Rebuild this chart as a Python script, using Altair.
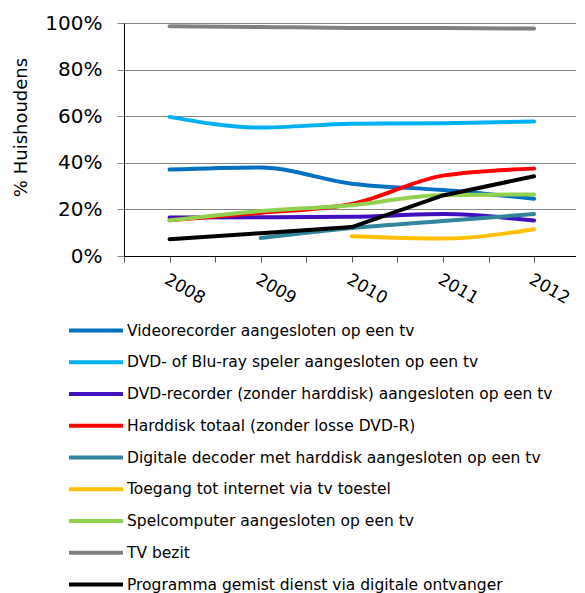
import altair as alt
import pandas as pd

years = [2008, 2009, 2010, 2011, 2012]

series_names = [
    "Videorecorder aangesloten op een tv",
    "DVD- of Blu-ray speler aangesloten op een tv",
    "DVD-recorder (zonder harddisk) aangesloten op een tv",
    "Harddisk totaal (zonder losse DVD-R)",
    "Digitale decoder met harddisk aangesloten op een tv",
    "Toegang tot internet via tv toestel",
    "Spelcomputer aangesloten op een tv",
    "TV bezit",
    "Programma gemist dienst via digitale ontvanger",
]
series_colors = [
    "#0070C0", "#00B0F0", "#4010C0", "#FF0000", "#31859C",
    "#FFC000", "#92D050", "#808080", "#000000",
]

videorecorder = [37.1, 38.0, 31.0, 28.3, 24.6]
dvd_bluray = [59.7, 55.1, 56.8, 57.0, 57.7]
dvd_recorder = [16.5, 16.6, 16.8, 18.0, 15.2]
harddisk = [15.3, 18.5, 22.3, 34.5, 37.5]
decoder = [None, 7.7, 12.0, 15.0, 18.0]
internet_tv = [None, None, 8.5, 7.5, 11.5]
spelcomputer = [15.3, 19.3, 21.8, 26.2, 26.4]
tv_bezit = [98.6, 98.3, 97.9, 97.9, 97.6]
programma_gemist = [7.2, 9.8, 12.4, 26.0, 34.2]

all_values = [videorecorder, dvd_bluray, dvd_recorder, harddisk, decoder,
              internet_tv, spelcomputer, tv_bezit, programma_gemist]

y_ticks = [0, 20, 40, 60, 80, 100]
x_ticks = [2007.5, 2008, 2008.5, 2009, 2009.5, 2010, 2010.5, 2011, 2011.5, 2012]

rows = []
for name, vals in zip(series_names, all_values):
    for yr, v in zip(years, vals):
        if v is not None:
            rows.append({"serie": name, "jaar": yr, "pct": v})
df = pd.DataFrame(rows)

FONT = "DejaVu Sans"

x_enc = alt.X(
    "jaar:Q",
    scale=alt.Scale(domain=[2007.5, 2012.46], nice=False, zero=False),
    axis=alt.Axis(
        values=x_ticks,
        labelExpr="datum.value % 1 === 0 ? toString(datum.value) : ''",
        labelAngle=30, labelAlign="left", labelBaseline="top",
        labelPadding=9, labelFontSize=17, labelFont=FONT, labelColor="#000000",
        labelOverlap=False, labelBound=False, labelFlush=False,
        tickSize=6, tickColor="#555555", domainColor="#000000",
        grid=False, title=None,
    ),
)
y_enc = alt.Y(
    "pct:Q",
    scale=alt.Scale(domain=[0, 100], nice=False),
    axis=alt.Axis(
        values=y_ticks,
        labelExpr="datum.value + '%'",
        labelFontSize=20, labelFont=FONT, labelColor="#000000", labelPadding=15,
        tickSize=7, tickColor="#868686", domainColor="#000000",
        grid=True, gridColor="#868686", gridWidth=1,
        title="% Huishoudens", titleFont=FONT, titleFontSize=18,
        titleFontWeight="normal", titleColor="#000000",
        titleX=-103, titleY=104, titleAngle=270,
        titleAlign="center", titleBaseline="middle",
    ),
)
color_enc = alt.Color(
    "serie:N",
    scale=alt.Scale(domain=series_names, range=series_colors),
    sort=series_names,
    legend=alt.Legend(
        orient="none", legendX=-43.5, legendY=292, direction="vertical",
        title=None, symbolType="M-2,0H2", symbolSize=729, symbolStrokeWidth=4,
        labelFont=FONT, labelFontSize=15.5, labelColor="#000000", labelLimit=0,
        labelOffset=15.5, rowPadding=7.75, padding=0,
    ),
)

base = alt.Chart(df)
smooth = base.transform_filter(
    alt.datum.serie != "Programma gemist dienst via digitale ontvanger"
).mark_line(interpolate="monotone", strokeWidth=4, strokeCap="round").encode(
    x=x_enc, y=y_enc, color=color_enc, order="jaar:Q"
)
straight = base.transform_filter(
    alt.datum.serie == "Programma gemist dienst via digitale ontvanger"
).mark_line(interpolate="linear", strokeWidth=4, strokeCap="round").encode(
    x=x_enc, y=y_enc, color=color_enc, order="jaar:Q"
)

chart = alt.layer(smooth, straight).properties(
    width=452, height=233,
    autosize=alt.AutoSizeParams(type="none"),
    padding={"left": 116, "top": 15, "right": 0, "bottom": 337},
).configure_view(stroke=None).configure(background="#ffffff")

chart.save("out.html", embed_options={"renderer": "svg", "actions": False})
